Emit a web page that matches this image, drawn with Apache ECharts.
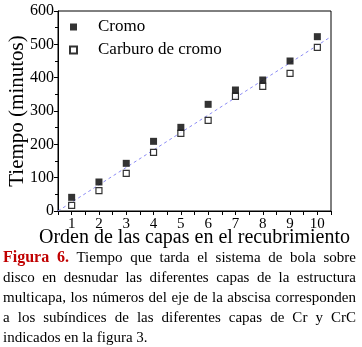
<!DOCTYPE html>
<html>
<head>
<meta charset="utf-8">
<script src="https://cdn.jsdelivr.net/npm/echarts@6/dist/echarts.min.js"></script>
<style>
  html, body { margin: 0; padding: 0; background: #fff; width: 362px; height: 347px; overflow: hidden; }
  #chart { position: absolute; left: 0; top: 0; width: 362px; height: 252px; }
  #caption {
    position: absolute; left: 3px; top: 247px; width: 353px;
    font-family: "Liberation Serif", "DejaVu Serif", serif; font-size: 15px; line-height: 19.9px;
    color: #000;
  }
  #caption .l { text-align: justify; text-align-last: justify; white-space: nowrap; }
  #caption .last { text-align: left; white-space: nowrap; }
  #caption b { color: #c00000; font-size: 16px; }
</style>
</head>
<body>
<div id="chart"></div>
<div id="caption">
  <div class="l"><b>Figura 6.</b> Tiempo que tarda el sistema de bola sobre</div>
  <div class="l">disco en desnudar las diferentes capas de la estructura</div>
  <div class="l">multicapa, los números del eje de la abscisa corresponden</div>
  <div class="l">a los subíndices de las diferentes capas de Cr y CrC</div>
  <div class="last">indicados en la figura 3.</div>
</div>
<script>
const layers = [1, 2, 3, 4, 5, 6, 7, 8, 9, 10];
const cromo = [41, 87, 143, 209, 251, 320, 363, 393, 450, 523];
const carburo = [17, 61, 113, 176, 233, 272, 344, 374, 413, 491];
const fitX = [0.5, 10.5];
const fitY = [0, 523];
const seriesNames = ['Cromo', 'Carburo de cromo'];
const xTitle = 'Orden de las capas en el recubrimiento';
const yTitle = 'Tiempo (minutos)';

const serif = '"Liberation Serif", "DejaVu Serif", serif';
const chart = echarts.init(document.getElementById('chart'));
chart.setOption({
  animation: false,
  backgroundColor: '#fff',
  grid: {
    left: 58, right: 31, top: 11, bottom: 41,
    outerBoundsMode: 'none', containLabel: false,
    show: true, borderColor: '#000', borderWidth: 1, backgroundColor: 'transparent'
  },
  legend: {
    orient: 'vertical', left: 64, top: 13, itemGap: 5,
    itemWidth: 7, itemHeight: 7,
    data: seriesNames.map(n => ({ name: n, icon: 'rect' })),
    textStyle: { fontFamily: serif, fontSize: 17, color: '#000', padding: [0, 0, 0, 16], lineHeight: 18 }
  },
  xAxis: {
    type: 'value', min: 0.5, max: 10.5, interval: 0.5,
    name: xTitle, nameLocation: 'middle', nameGap: 17, nameMoveOverlap: false,
    nameTextStyle: { fontFamily: serif, fontSize: 20, color: '#000', verticalAlign: 'top' },
    axisLine: { show: true, onZero: false, lineStyle: { color: '#000', width: 1 } },
    axisTick: { show: true, length: 4, lineStyle: { color: '#000' } },
    axisLabel: {
      fontFamily: serif, fontSize: 15, color: '#000', margin: 6,
      formatter: v => (Math.abs(v - Math.round(v)) < 1e-6 ? String(Math.round(v)) : '')
    },
    splitLine: { show: false }
  },
  yAxis: {
    type: 'value', min: 0, max: 600, interval: 100,
    name: yTitle, nameLocation: 'middle', nameGap: 30, nameMoveOverlap: false,
    nameTextStyle: { fontFamily: serif, fontSize: 21, color: '#000' },
    axisLine: { show: true, lineStyle: { color: '#000', width: 1 } },
    axisTick: { show: true, length: 4, lineStyle: { color: '#000' } },
    minorTick: { show: true, splitNumber: 2, length: 3, lineStyle: { color: '#000' } },
    axisLabel: { fontFamily: serif, fontSize: 16, color: '#000', margin: 4 },
    splitLine: { show: false }
  },
  series: [
    {
      name: 'fit', type: 'line', data: fitX.map((x, i) => [x, fitY[i]]),
      symbol: 'none', silent: true, z: 1,
      lineStyle: { color: '#8c8cf5', width: 1, type: [3, 3] }
    },
    {
      name: seriesNames[0], type: 'scatter', data: layers.map((x, i) => [x, cromo[i]]),
      symbol: 'rect', symbolSize: 7, z: 2,
      itemStyle: { color: '#000', borderColor: '#000', borderWidth: 0 }
    },
    {
      name: seriesNames[1], type: 'scatter', data: layers.map((x, i) => [x, carburo[i]]),
      symbol: 'rect', symbolSize: 6, z: 3,
      itemStyle: { color: '#fff', borderColor: '#000', borderWidth: 1.2 }
    }
  ]
});
</script>
</body>
</html>
